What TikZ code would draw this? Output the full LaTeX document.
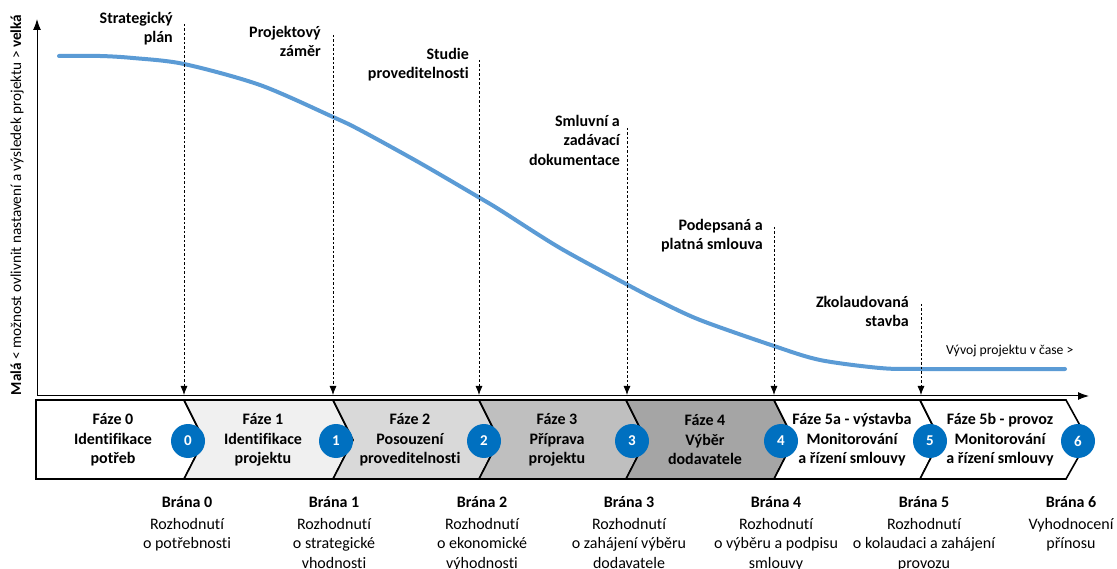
\documentclass[tikz,border=0pt]{standalone}
\usepackage{fontspec}
\setmainfont{Carlito}[Ligatures=NoCommon]
\usetikzlibrary{arrows.meta}
\definecolor{modra}{HTML}{0070C0}
\definecolor{krivka}{HTML}{5B9BD5}
\definecolor{seda1}{HTML}{F0F0F0}
\definecolor{seda2}{HTML}{D9D9D9}
\definecolor{seda3}{HTML}{BFBFBF}
\definecolor{seda4}{HTML}{A5A5A5}
\tikzset{
  faze/.style={font=\bfseries\fontsize{16}{19.5}\selectfont, align=center, inner sep=0pt},
  milnik/.style={font=\bfseries\fontsize{16}{19.5}\selectfont, align=right, inner sep=0pt, anchor=north east},
  brana/.style={font=\bfseries\fontsize{16}{19.5}\selectfont, inner sep=0pt, anchor=base},
  popis/.style={font=\fontsize{16}{19.5}\selectfont, align=center, inner sep=0pt, anchor=north},
  kruh/.style={circle, fill=modra, text=white, font=\bfseries\fontsize{15}{18}\selectfont, minimum size=34pt, inner sep=0pt},
  chevron/.style={draw=black, line width=1.6pt, line join=miter},
  sipka/.style={-{Latex[length=9pt,width=7pt]}, black, dash pattern=on 2.5pt off 2pt, line width=0.8pt},
  osa/.style={-{Latex[length=11pt,width=8pt]}, black, line width=1pt}
}
\begin{document}
\begin{tikzpicture}[x=1pt,y=-1pt]
\useasboundingbox (0,0) rectangle (1117,569);
%OSY
\coordinate (o) at (37,396);
\coordinate (ytop) at (37,19);
\coordinate (xend) at (1089,396);
\draw[osa] (o) -- (ytop);
\draw[osa] (o) -- (xend);
\node[rotate=90, inner sep=0pt, font=\fontsize{15.2}{18}\selectfont] (ypopis) at (17,205) {\textbf{Malá} < možnost ovlivnit nastavení a výsledek projektu > \textbf{velká}};
\node[anchor=base west, inner sep=0pt, font=\fontsize{13.7}{16}\selectfont] (xpopis) at (946,355) {Vývoj projektu v čase >};
%KRIVKA
\draw[krivka, line width=4pt, line cap=round] plot[smooth] coordinates {(59,56) (100,56) (133,58) (184,64) (260,85) (333,117) (360,130) (420,163) (480,198) (500,210) (560,248) (628,285) (657,300) (700,320) (774,346) (820,360) (880,368) (922,369) (1065,369)};
%MILNIKY
\node[milnik] (m0) at (173,12) {Strategický\\plán};
\node[milnik] (m1) at (321,26) {Projektový\\záměr};
\node[milnik] (m2) at (469,48) {Studie\\proveditelnosti};
\node[milnik] (m3) at (620,115) {Smluvní a\\zadávací\\dokumentace};
\node[milnik] (m4) at (763,219) {Podepsaná a\\platná smlouva};
\node[milnik] (m5) at (909,296) {Zkolaudovaná\\stavba};
\coordinate (t0) at (184,24);
\coordinate (t1) at (333,35);
\coordinate (t2) at (479,60);
\coordinate (t3) at (627,128);
\coordinate (t4) at (774,227);
\coordinate (t5) at (921,304);
\coordinate (d0) at (184,395);
\coordinate (d1) at (333,395);
\coordinate (d2) at (479,395);
\coordinate (d3) at (627,395);
\coordinate (d4) at (774,395);
\coordinate (d5) at (921,395);
\draw[sipka] (t0) -- (d0);
\draw[sipka] (t1) -- (d1);
\draw[sipka] (t2) -- (d2);
\draw[sipka] (t3) -- (d3);
\draw[sipka] (t4) -- (d4);
\draw[sipka] (t5) -- (d5);
%FAZE
\draw[chevron, fill=white] (36,400) -- (184,400) -- (204,440) -- (184,479) -- (36,479) -- cycle;
\draw[chevron, fill=seda1] (184,400) -- (333,400) -- (353,440) -- (333,479) -- (184,479) -- (204,440) -- cycle;
\draw[chevron, fill=seda2] (333,400) -- (479,400) -- (499,440) -- (479,479) -- (333,479) -- (353,440) -- cycle;
\draw[chevron, fill=seda3] (479,400) -- (626,400) -- (646,440) -- (626,479) -- (479,479) -- (499,440) -- cycle;
\draw[chevron, fill=seda4] (626,400) -- (774,400) -- (794,440) -- (774,479) -- (626,479) -- (646,440) -- cycle;
\draw[chevron, fill=white] (774,400) -- (920,400) -- (940,440) -- (920,479) -- (774,479) -- (794,440) -- cycle;
\draw[chevron, fill=white] (920,400) -- (1066,400) -- (1088,440) -- (1066,479) -- (920,479) -- (940,440) -- cycle;
\node[faze] (f0) at (113,440) {Fáze 0\\Identifikace\\potřeb};
\node[faze] (f1) at (263,440) {Fáze 1\\Identifikace\\projektu};
\node[faze] (f2) at (410,440) {Fáze 2\\Posouzení\\proveditelnosti};
\node[faze] (f3) at (557,440) {Fáze 3\\Příprava\\projektu};
\node[faze] (f4) at (705,440) {Fáze 4\\Výběr\\dodavatele};
\node[faze] (f5) at (852,440) {Fáze 5a - výstavba\\Monitorování\\a řízení smlouvy};
\node[faze] (f6) at (1000,440) {Fáze 5b - provoz\\Monitorování\\a řízení smlouvy};
%BRANY
\node[kruh] (k0) at (188,441) {0};
\node[kruh] (k1) at (336,441) {1};
\node[kruh] (k2) at (484,441) {2};
\node[kruh] (k3) at (632,441) {3};
\node[kruh] (k4) at (781,441) {4};
\node[kruh] (k5) at (930,441) {5};
\node[kruh] (k6) at (1078,441) {6};
\node[brana] (b0) at (187,507) {Brána 0};
\node[brana] (b1) at (334,507) {Brána 1};
\node[brana] (b2) at (482,507) {Brána 2};
\node[brana] (b3) at (629,507) {Brána 3};
\node[brana] (b4) at (776,507) {Brána 4};
\node[brana] (b5) at (924,507) {Brána 5};
\node[brana] (b6) at (1071,507) {Brána 6};
\node[popis] (p0) at (187,518) {Rozhodnutí\\o potřebnosti};
\node[popis] (p1) at (334,518) {Rozhodnutí\\o strategické\\vhodnosti};
\node[popis] (p2) at (482,518) {Rozhodnutí\\o ekonomické\\výhodnosti};
\node[popis] (p3) at (629,518) {Rozhodnutí\\o zahájení výběru\\dodavatele};
\node[popis] (p4) at (776,518) {Rozhodnutí\\o výběru a podpisu\\smlouvy};
\node[popis] (p5) at (924,518) {Rozhodnutí\\o kolaudaci a zahájení\\provozu};
\node[popis] (p6) at (1071,518) {Vyhodnocení\\přínosu};
\end{tikzpicture}
\end{document}
